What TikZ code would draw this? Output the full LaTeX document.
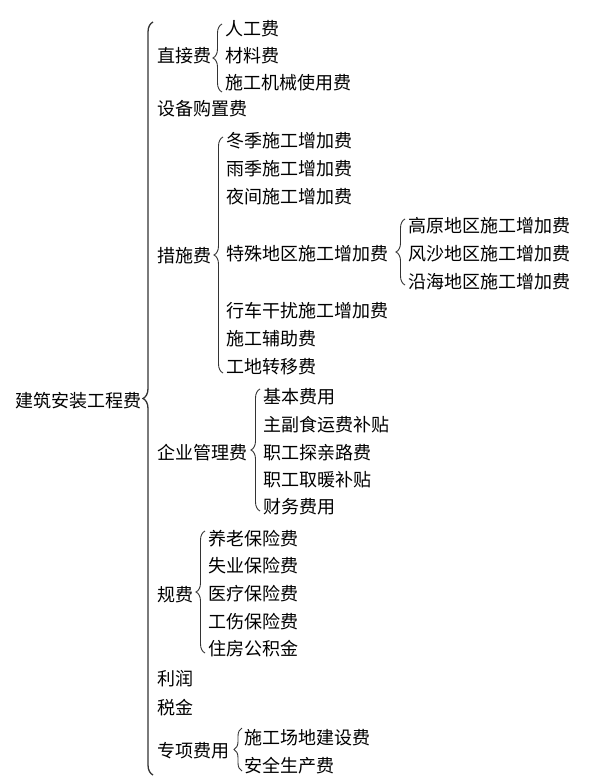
\documentclass[tikz,border=0pt]{standalone}
\usepackage{fontspec}
\setmainfont{Noto Sans CJK SC}
\usetikzlibrary{decorations.pathreplacing}
\begin{document}
\begin{tikzpicture}[x=1pt,y=-1pt,
  lbl/.style={anchor=west, inner sep=0pt, text height=0.83em, text depth=0.07em, yshift=-4pt,
    font=\fontsize{18}{18}\selectfont, text=black},
  brc/.style={decorate, decoration={brace, amplitude=#1}, draw=black!80, line width=0.9pt},
  brc/.default=9pt]
\useasboundingbox (0,0) rectangle (600,783);
% root
\node[lbl] (root) at (15,400) {建筑安装工程费};
\coordinate (mB) at (153,775); \coordinate (mT) at (153,22);
\draw[brc=10pt, line width=1.3pt] (mB) -- (mT);
% level 1
\node[lbl] (zj) at (157,55) {直接费};
\node[lbl] (sb) at (157,108) {设备购置费};
\node[lbl] (cs) at (157,255) {措施费};
\node[lbl] (qy) at (157,452) {企业管理费};
\node[lbl] (gf) at (157,594) {规费};
\node[lbl] (lr) at (157,678) {利润};
\node[lbl] (sj) at (157,707) {税金};
\node[lbl] (zx) at (157,750) {专项费用};
% 直接费
\coordinate (zjB) at (222,92); \coordinate (zjT) at (222,24);
\draw[brc] (zjB) -- (zjT);
\node[lbl] (rg) at (225,28) {人工费};
\node[lbl] (cl) at (225,55) {材料费};
\node[lbl] (jx) at (225,82) {施工机械使用费};
% 措施费
\coordinate (csB) at (223,373); \coordinate (csT) at (223,137);
\draw[brc] (csB) -- (csT);
\node[lbl] (dj) at (226,140) {冬季施工增加费};
\node[lbl] (yj) at (226,168) {雨季施工增加费};
\node[lbl] (yw) at (226,196) {夜间施工增加费};
\node[lbl] (ts) at (226,253) {特殊地区施工增加费};
\node[lbl] (xc) at (226,310) {行车干扰施工增加费};
\node[lbl] (fz) at (226,338) {施工辅助费};
\node[lbl] (zy) at (226,366) {工地转移费};
% 特殊地区
\coordinate (tsB) at (405,285); \coordinate (tsT) at (405,219);
\draw[brc] (tsB) -- (tsT);
\node[lbl] (gy) at (408,225) {高原地区施工增加费};
\node[lbl] (fs) at (408,253) {风沙地区施工增加费};
\node[lbl] (yh) at (408,281) {沿海地区施工增加费};
% 企业管理费
\coordinate (qyB) at (260,511); \coordinate (qyT) at (260,389);
\draw[brc] (qyB) -- (qyT);
\node[lbl] (jb) at (263,396) {基本费用};
\node[lbl] (zf) at (263,424) {主副食运费补贴};
\node[lbl] (tq) at (263,452) {职工探亲路费};
\node[lbl] (qn) at (263,479) {职工取暖补贴};
\node[lbl] (cw) at (263,506) {财务费用};
% 规费
\coordinate (gfB) at (205,653); \coordinate (gfT) at (205,531);
\draw[brc] (gfB) -- (gfT);
\node[lbl] (yl) at (208,538) {养老保险费};
\node[lbl] (sy) at (208,565) {失业保险费};
\node[lbl] (yl2) at (208,593) {医疗保险费};
\node[lbl] (gs) at (208,621) {工伤保险费};
\node[lbl] (zf2) at (208,648) {住房公积金};
% 专项费用
\coordinate (zxB) at (242,771); \coordinate (zxT) at (242,728);
\draw[brc=8pt] (zxB) -- (zxT);
\node[lbl] (cd) at (244,737) {施工场地建设费};
\node[lbl] (aq) at (244,765) {安全生产费};
\end{tikzpicture}
\end{document}
